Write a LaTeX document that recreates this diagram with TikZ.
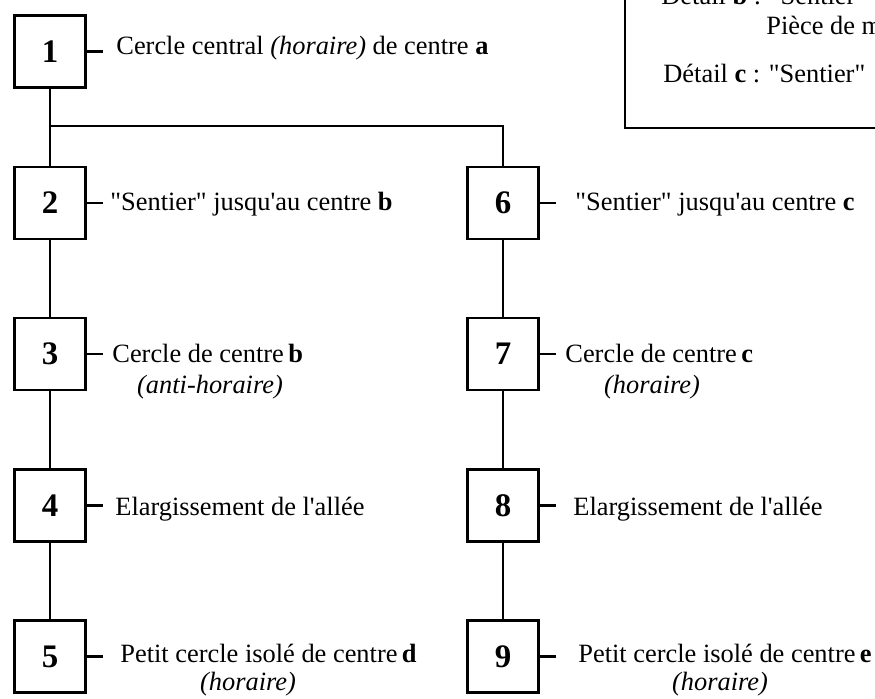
\documentclass[tikz,border=0pt]{standalone}
\usepackage{fontspec}
\setmainfont{Liberation Serif}
\newcommand\sq{\textquotesingle}
\newcommand\dq{\textquotedbl}
\begin{document}
\begin{tikzpicture}[x=1bp,y=-1bp,line width=2.8bp,
  stepbox/.style={draw, minimum width=71.5bp, minimum height=72bp, inner sep=0pt,
                  font=\fontsize{33}{36}\selectfont\bfseries},
  lbl/.style={anchor=base west, inner sep=0pt, font=\fontsize{26.5}{30}\selectfont},
  sub/.style={anchor=base, inner sep=0pt, font=\fontsize{26.5}{30}\selectfont\itshape},
  tick/.style={line width=2.8bp}]
\useasboundingbox (0,0) rectangle (875,699);
\clip (0,0) rectangle (875,699);

% step boxes
\node[stepbox] (n1) at (50,51.5) {1};
\node[stepbox] (n2) at (50,203) {2};
\node[stepbox] (n3) at (50,354) {3};
\node[stepbox] (n4) at (50,505.5) {4};
\node[stepbox] (n5) at (50,656.5) {5};
\node[stepbox] (n6) at (503,203) {6};
\node[stepbox] (n7) at (503,354) {7};
\node[stepbox] (n8) at (503,505.5) {8};
\node[stepbox] (n9) at (503,656.5) {9};

% connectors
\coordinate (j1) at (50,126);
\coordinate (j2) at (503,126);
\draw (n1.south) -- (j1) -- (j2) -- (n6.north);
\draw (j1) -- (n2.north);
\draw (n2) -- (n3);
\draw (n3) -- (n4);
\draw (n4) -- (n5);
\draw (n6) -- (n7);
\draw (n7) -- (n8);
\draw (n8) -- (n9);

% ticks
\foreach \n in {1,...,9}{\draw[tick] (n\n.east) -- ++(15.5,0) coordinate (t\n);}

% labels
\node[lbl] (l1) at (115,55) {Cercle central \textit{(horaire)} de centre \textbf{a}};
\node[lbl] (l2) at (109,210) {\dq Sentier\dq{} jusqu\sq au centre \textbf{b}};
\node[lbl] (l3) at (111,362) {Cercle de centre\,\textbf{b}};
\node[sub] (l3b) at (210,393) {(anti-horaire)};
\node[lbl] (l4) at (114,515) {Elargissement de l\sq allée};
\node[lbl] (l5) at (119,662) {Petit cercle isolé de centre\,\textbf{d}};
\node[sub] (l5b) at (248,690) {(horaire)};
\node[lbl] (l6) at (574,210) {\dq Sentier\dq{} jusqu\sq au centre \textbf{c}};
\node[lbl] (l7) at (564,362) {Cercle de centre\,\textbf{c}};
\node[sub] (l7b) at (652,393) {(horaire)};
\node[lbl] (l8) at (572,515) {Elargissement de l\sq allée};
\node[lbl] (l9) at (577,662) {Petit cercle isolé de centre\,\textbf{e}};
\node[sub] (l9b) at (720,690) {(horaire)};

% legend box (clipped at top right, as in the reference)
\draw (625,-20) -- (625,128) -- (900,128);
\node[lbl] (d1) at (660,5) {Détail \textbf{b} : \dq Sentier\dq};
\node[lbl] (d2) at (765,35) {Pièce de m};
\node[lbl] (d3) at (662,83) {Détail \textbf{c} : \dq Sentier\dq};
\end{tikzpicture}
\end{document}
